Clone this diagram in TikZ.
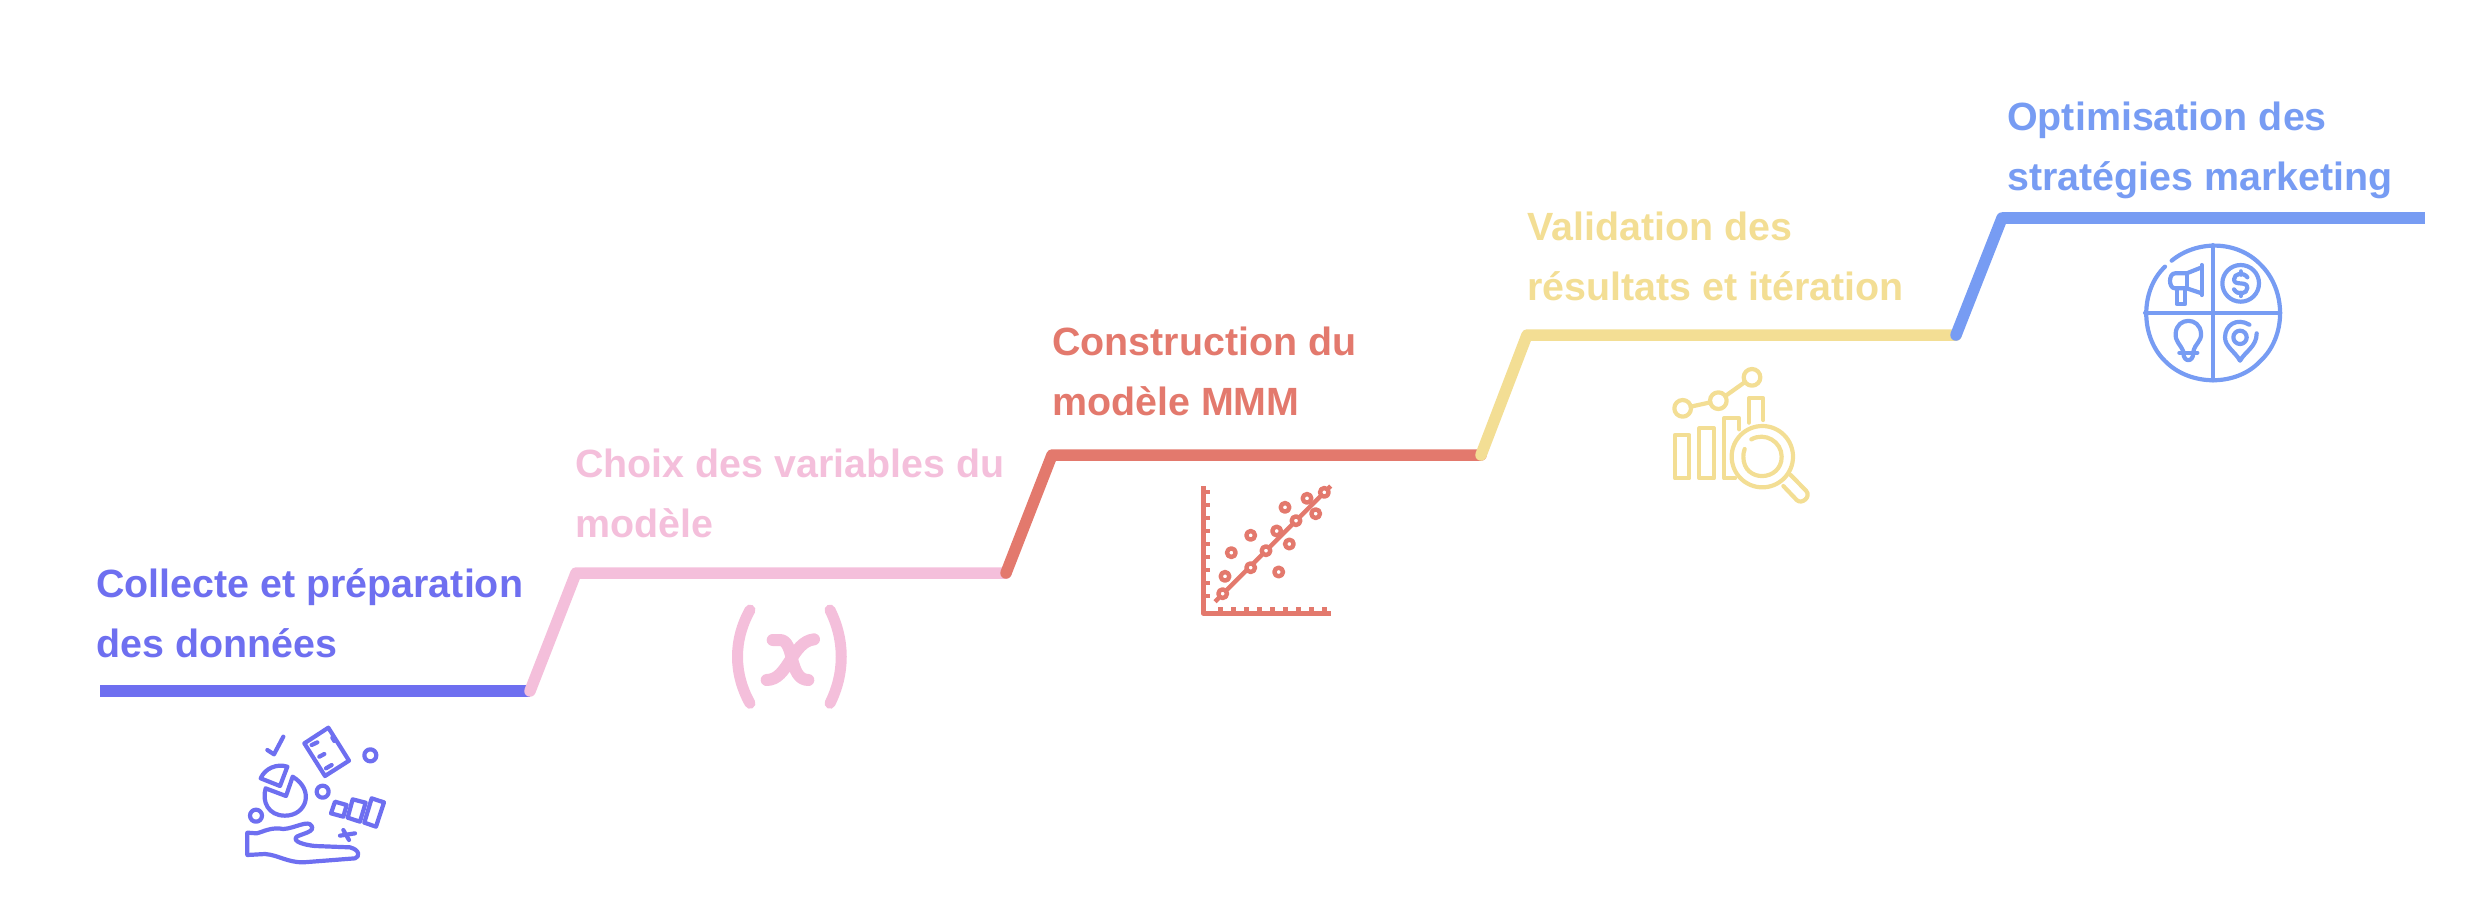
\documentclass[tikz,border=0pt]{standalone}
\usepackage{fontspec}
\setmainfont{Liberation Sans}
\definecolor{collectecol}{HTML}{6E6FF0}
\definecolor{choixcol}{HTML}{F4BFDB}
\definecolor{modelecol}{HTML}{E3796D}
\definecolor{validcol}{HTML}{F3DE94}
\definecolor{optimcol}{HTML}{779CF3}
\begin{document}
\begin{tikzpicture}[x=1pt,y=-1pt,
        stair/.style={line width=11.5pt,line join=round,line cap=round},
        title/.style={anchor=base west,align=left,inner sep=0pt,font=\fontsize{39.4}{60}\selectfont\bfseries},
        icon/.style={line width=4.2pt,line join=round,line cap=round}]
    \useasboundingbox (0, 0) rectangle (2476, 914);

    % Collecte
    \draw[stair,collectecol,line cap=butt] (100, 691) -- (530, 691);
    \node[title,text=collectecol] (collecte) at (96, 657) {Collecte et préparation\\des données};
    \begin{scope}[shift={(200, 700)},scale=1/3,icon,collectecol]
        \draw (202, 150) -- (222, 163) -- (250, 110);
        \draw (385, 83) -- (447, 182) -- (375, 228) -- (313, 130) -- cycle;
        \draw (335, 135) -- (352, 127);
        \draw (358, 170) -- (373, 162);
        \draw (378, 205) -- (395, 195);
        \draw (397, 113) -- (403, 123);
        \draw (511, 166) circle (18);
        \draw (368, 275) circle (18);
        \draw (168, 347) circle (18);
        \draw (197, 265) -- (258, 288) -- (278, 230) .. controls (345, 270) and (320, 347) .. (255, 347)
            .. controls (205, 347) and (185, 305) .. (197, 265);
        \draw (262, 200) -- (240, 258) -- (182, 235) .. controls (195, 205) and (230, 190) .. (262, 200);
        \draw (405, 305) -- (440, 315) -- (430, 350) -- (393, 340) -- cycle;
        \draw (458, 298) -- (497, 308) -- (480, 365) -- (443, 353) -- cycle;
        \draw (515, 295) -- (552, 307) -- (528, 380) -- (493, 368) -- cycle;
        \draw (142, 398) -- (142, 465) -- (195, 462) .. controls (235, 465) and (260, 487) .. (310, 487)
            -- (465, 475) .. controls (480, 470) and (480, 450) .. (450, 442) -- (345, 438)
            .. controls (315, 435) and (275, 425) .. (290, 410) .. controls (310, 400) and (345, 395) .. (335, 378)
            .. controls (325, 358) and (285, 385) .. (250, 387) .. controls (215, 380) and (190, 395) .. (170, 400) -- cycle;
        \draw (420, 407) -- (465, 400);
        \draw (430, 390) -- (447, 420);
    \end{scope}

    % Choix
    \draw[stair,choixcol] (530, 691) -- (576, 573) -- (1006, 573);
    \node[title,text=choixcol] (choix) at (575, 537) {Choix des variables du\\modèle};
    \begin{scope}[shift={(700, 580)},scale=1/3,choixcol,line cap=round,line join=round]
        \draw[line width=11pt] (150, 90) .. controls (100, 180) and (100, 280) .. (150, 370);
        \draw[line width=11pt] (390, 90) .. controls (435, 180) and (435, 280) .. (390, 370);
        \draw[line width=12pt] (218, 180) -- (240, 180) .. controls (285, 180) and (265, 300) .. (325, 300);
        \draw[line width=12pt] (342, 178) .. controls (275, 185) and (265, 300) .. (200, 300);
    \end{scope}

    % Construction
    \draw[stair,modelecol] (1006, 573) -- (1052, 455) -- (1481, 455);
    \node[title,text=modelecol] (construction) at (1052, 415) {Construction du\\modèle MMM};
    \begin{scope}[shift={(1170, 470)},scale=1/3,icon,modelecol,line cap=butt,fill=white]
        \draw[line width=5pt] (100, 48) -- (100, 430) -- (482, 430);
        \foreach \tick in {66, 105, 144, 183, 222, 261, 300, 339, 378} {
            \draw[line width=4.5pt] (100, \tick) -- (120, \tick);
        }
        \foreach \tick in {152, 191, 230, 269, 308, 347, 386, 425, 463} {
            \draw[line width=4.5pt] (\tick, 430) -- (\tick, 412);
        }
        \draw[line width=4.5pt] (135, 395) -- (482, 48);
        \foreach \pos in {(158, 371), (242, 293), (288, 242), (378, 152), (463, 67),
                (165, 319), (184, 248), (242, 196), (320, 183), (345, 112),
                (411, 85), (437, 131), (358, 222), (326, 306)} {
            \filldraw[line width=4.4pt] \pos circle (13);
        }
    \end{scope}

    % Validation
    \draw[stair,validcol] (1481, 455) -- (1527, 335) -- (1956, 335);
    \node[title,text=validcol] (validation) at (1527, 300) {Validation des\\résultats et itération};
    \begin{scope}[shift={(1650, 350)},scale=1/3,icon,validcol]
        \draw (98, 175) circle (25);
        \draw (205, 152) circle (25);
        \draw (306, 82) circle (25);
        \draw (122, 170) -- (181, 157);
        \draw (226, 138) -- (285, 96);
        \draw (75, 255) rectangle (118, 385);
        \draw (148, 235) rectangle (192, 385);
        \draw (268, 238) -- (268, 205) -- (222, 205) -- (222, 385) -- (255, 385);
        \draw (297, 218) -- (297, 145) -- (340, 145) -- (340, 210);
        \draw (337, 320) circle (92);
        \draw (304, 268) .. controls (345, 245) and (395, 275) .. (395, 320)
            .. controls (395, 395) and (280, 400) .. (280, 320)
            .. controls (280, 312) and (281, 305) .. (284, 297);
        \draw (400, 408) -- (440, 450) .. controls (455, 465) and (485, 440) .. (468, 422) -- (422, 375);
    \end{scope}

    % Optimisation
    \draw[stair,optimcol] (1956, 335) -- (2002, 218);
    \draw[stair,optimcol,line cap=butt] (2002, 218) -- (2425, 218);
    \node[title,text=optimcol] (optimisation) at (2007, 190) {Optimisation des\\stratégies marketing};
    \begin{scope}[shift={(2130, 230)},scale=1/3,icon,optimcol]
        \draw (125, 92) .. controls (200, 30) and (320, 30) .. (391, 103)
            .. controls (470, 180) and (470, 320) .. (391, 393)
            .. controls (320, 470) and (180, 470) .. (105, 393)
            .. controls (30, 320) and (30, 180) .. (105, 110);
        \draw (248, 45) -- (248, 451);
        \draw (45, 248) -- (451, 248);
        % Megaphone
        \draw (215, 105) -- (215, 195);
        \draw (215, 112) -- (170, 130) -- (135, 130) .. controls (115, 130) and (115, 175) .. (135, 175) -- (170, 175) -- (215, 190);
        \draw (170, 130) -- (170, 175);
        \draw (140, 175) -- (140, 222) -- (165, 222) -- (165, 175);
        % Dollar
        \draw (332, 160) circle (55);
        \draw (352, 142) .. controls (340, 125) and (312, 130) .. (312, 148)
            .. controls (312, 170) and (352, 150) .. (352, 174)
            .. controls (352, 192) and (322, 197) .. (312, 178);
        \draw (332, 124) -- (332, 134);
        \draw (332, 188) -- (332, 198);
        % Ampoule
        \draw (160, 365) .. controls (150, 340) and (135, 335) .. (137, 310)
            .. controls (140, 260) and (210, 260) .. (213, 310)
            .. controls (215, 335) and (195, 340) .. (190, 365);
        \draw (148, 368) -- (202, 368);
        \draw (160, 368) .. controls (160, 398) and (190, 398) .. (190, 368);
        % Repere
        \draw (330, 322) circle (20);
        \draw (358, 284) .. controls (320, 262) and (285, 285) .. (285, 322)
            .. controls (285, 350) and (315, 365) .. (330, 392)
            .. controls (345, 365) and (380, 350) .. (380, 310);
    \end{scope}
\end{tikzpicture}
\end{document}
